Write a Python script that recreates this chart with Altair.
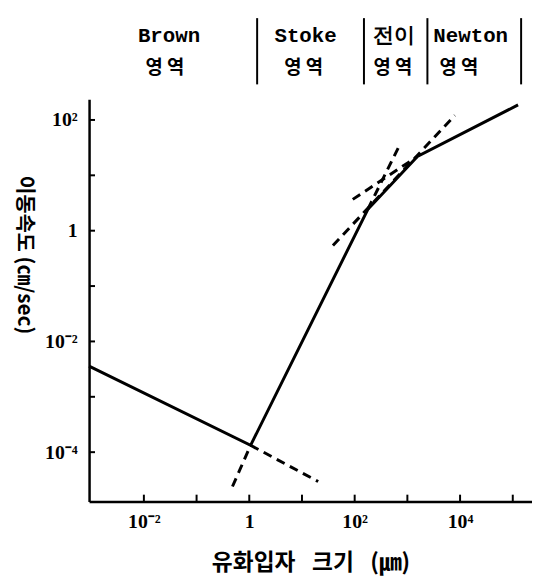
import altair as alt
import pandas as pd

# ---- data ----
x_domain = [0.000912, 231700]
y_domain = [1.28e-5, 237]

solid_x = [0.000912, 1.06, 178, 1550, 126000]
solid_y = [0.00358, 0.000133, 2.44, 21.9, 187]

dash_seg = [1, 1, 2, 2, 3, 3, 4, 4, 5, 5]
dash_x = [1.06, 0.48, 1.06, 20.3, 38.7, 7960, 178, 690, 92, 1550]
dash_y = [0.000133, 2.4e-5, 0.000133, 2.95e-5, 0.54, 121, 2.44, 33, 3.68, 21.9]

region_bounds = [1.41, 150, 2400, 144000]
region_names = ["Brown", "Stoke", "전이", "Newton"]
region_name_x = [0.030, 11.7, 550, 15900]
region_word = ["영 역", "영 역", "영 역", "영 역"]
region_word_x = [0.025, 10.8, 530, 9500]

x_tick_values = [0.01, 1, 100, 10000]
x_tick_labels = ["10⁻²", "1", "10²", "10⁴"]
y_tick_values = [0.0001, 0.01, 1, 100]
y_tick_labels = ["10⁻⁴", "10⁻²", "1", "10²"]
x_minor = [0.01, 0.1, 1, 10, 100, 1000, 10000, 100000]
y_minor = [0.0001, 0.001, 0.01, 0.1, 1, 10, 100]

x_title = "유화입자\u2002 크기\u2002 (㎛)"
y_title = "이동속도 (㎝/sec)"

W, H = 448, 407


def label_expr(values, labels):
    expr = "''"
    for v, l in zip(values, labels):
        expr = f"datum.value == {v} ? '{l}' : ({expr})"
    return expr


xs = alt.Scale(type="log", domain=x_domain, nice=False)
ys = alt.Scale(type="log", domain=y_domain, nice=False)

x_axis = alt.Axis(
    values=x_tick_values, labelExpr=label_expr(x_tick_values, x_tick_labels),
    tickSize=0, grid=False, domainColor="black", domainWidth=2.5,
    labelFont="Liberation Serif", labelFontSize=20, labelFontWeight="bold",
    labelColor="black", labelPadding=10,
    title=x_title, titleFont="Noto Sans CJK KR", titleFontSize=23,
    titleFontWeight="bold", titleColor="black", titlePadding=21)
y_axis = alt.Axis(
    values=y_tick_values, labelExpr=label_expr(y_tick_values, y_tick_labels),
    tickSize=0, grid=False, domainColor="black", domainWidth=2.5,
    labelFont="Liberation Serif", labelFontSize=20, labelFontWeight="bold",
    labelColor="black", labelPadding=12,
    title=y_title, titleFont="Noto Sans CJK KR", titleFontSize=21,
    titleFontWeight="bold", titleColor="black", titleAngle=90,
    titleX=-66, titleY=157, titleAlign="center", titleBaseline="middle")


def X():
    return alt.X("x:Q", scale=xs, axis=x_axis)


def Y():
    return alt.Y("y:Q", scale=ys, axis=y_axis)


solid_df = pd.DataFrame({"x": solid_x, "y": solid_y})
dash_df = pd.DataFrame({"seg": dash_seg, "x": dash_x, "y": dash_y})
bounds_df = pd.DataFrame({"x": region_bounds})
names_df = pd.DataFrame({"x": region_name_x, "t": region_names})
words_df = pd.DataFrame({"x": region_word_x, "t": region_word})
xt_df = pd.DataFrame({"x": x_minor})
yt_df = pd.DataFrame({"y": y_minor})

solid = alt.Chart(solid_df).mark_line(color="black", strokeWidth=3).encode(x=X(), y=Y())

dashed = alt.Chart(dash_df).mark_line(color="black", strokeWidth=3, strokeDash=[9, 6]).encode(
    x=X(), y=Y(), detail="seg:N")

xticks = alt.Chart(xt_df).mark_rule(color="black", strokeWidth=2).encode(
    x=X(), y=alt.value(H), y2=alt.value(H - 7))
yticks = alt.Chart(yt_df).mark_rule(color="black", strokeWidth=2).encode(
    y=Y(), x=alt.value(0), x2=alt.value(6))

bars = alt.Chart(bounds_df).mark_rule(color="black", strokeWidth=2).encode(
    x=X(), y=alt.value(-82), y2=alt.value(-15))
names = alt.Chart(names_df).mark_text(
    font="Liberation Mono", fontSize=21, fontWeight="bold", color="black",
    baseline="middle", align="center").encode(x=X(), y=alt.value(-64), text="t:N")
words = alt.Chart(words_df).mark_text(
    font="Noto Sans CJK KR", fontSize=19, fontWeight="bold", color="black",
    baseline="middle", align="center").encode(x=X(), y=alt.value(-32), text="t:N")

chart = alt.layer(solid, dashed, xticks, yticks, bars, names, words).properties(
    width=W, height=H,
    autosize=alt.AutoSizeParams(type="none"),
    padding={"left": 82, "top": 89, "right": 0, "bottom": 72},
    background="white",
).configure_view(stroke=None)

chart.save("out.html", embed_options={"renderer": "svg", "actions": False})
